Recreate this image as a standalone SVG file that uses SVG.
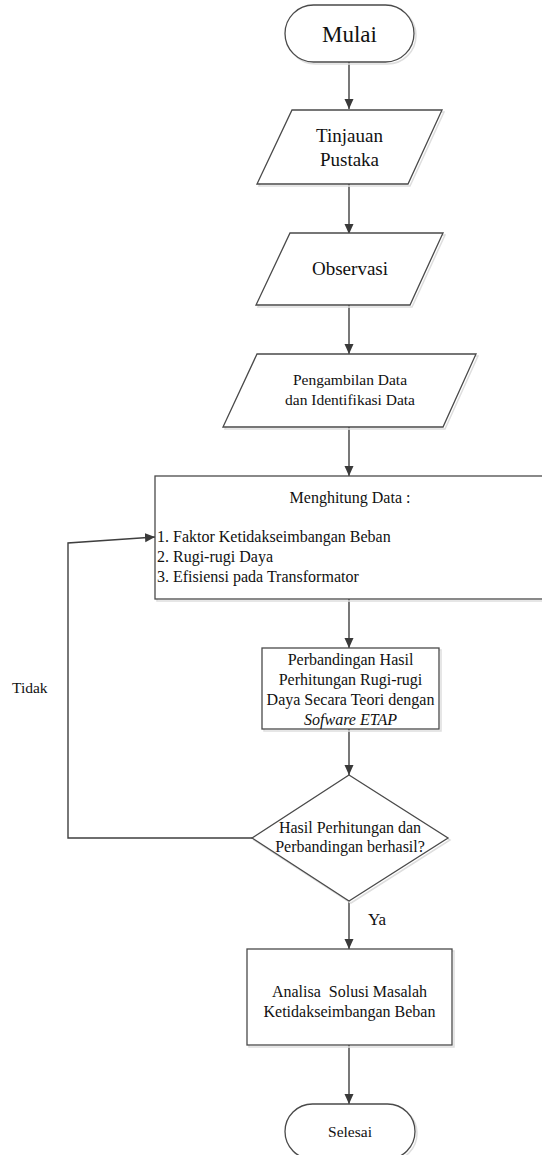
<svg xmlns="http://www.w3.org/2000/svg" width="542" height="1155" viewBox="0 0 542 1155">
<defs>
<marker id="ah" markerWidth="10" markerHeight="10" viewBox="0 0 10 10" refX="10" refY="5" orient="auto" markerUnits="userSpaceOnUse">
<path d="M0,0.5 L10,5 L0,9.5 Z" fill="#3a3a3a"/>
</marker>
<style>
.s{fill:#fff;stroke:#4a4a4a;stroke-width:1.3}
.sh{fill:none;stroke:#dedede;stroke-width:1.5}
.c{fill:none;stroke:#3f3f3f;stroke-width:1.4}
</style>
</defs>
<rect width="542" height="1155" fill="#fff"/>
<g id="connectors">
<line class="c" x1="349" y1="62" x2="349" y2="109" marker-end="url(#ah)"/>
<line class="c" x1="349" y1="184" x2="349" y2="234" marker-end="url(#ah)"/>
<line class="c" x1="349" y1="305" x2="349" y2="354" marker-end="url(#ah)"/>
<line class="c" x1="349" y1="427" x2="349" y2="476" marker-end="url(#ah)"/>
<line class="c" x1="349" y1="599" x2="349" y2="648" marker-end="url(#ah)"/>
<line class="c" x1="349" y1="729" x2="349" y2="775" marker-end="url(#ah)"/>
<line class="c" x1="349" y1="901" x2="349" y2="949" marker-end="url(#ah)"/>
<line class="c" x1="349" y1="1045" x2="349" y2="1104" marker-end="url(#ah)"/>
<polyline class="c" points="252,838 68,838 68,543 155,537" marker-end="url(#ah)"/>
<text x="12" y="693" font-size="15.5" font-family="'Liberation Serif', serif" fill="#111">Tidak</text>
<text x="368" y="925" font-size="17" font-family="'Liberation Serif', serif" fill="#111">Ya</text>
</g>
<g id="mulai" font-family="'Liberation Serif', serif" fill="#111" text-anchor="middle">
<rect class="sh" x="287" y="7" width="129" height="57" rx="28.5"/>
<rect class="s" x="285" y="5" width="129" height="57" rx="28.5"/>
<text x="349.5" y="42" font-size="23">Mulai</text>
</g>
<g id="tinjauan" font-family="'Liberation Serif', serif" fill="#111" text-anchor="middle">
<polygon class="sh" points="294,112 444,112 410,186 259,186"/>
<polygon class="s" points="292,110 442,110 408,184 257,184"/>
<text x="349.5" y="142" font-size="19">Tinjauan</text>
<text x="349.5" y="166" font-size="19">Pustaka</text>
</g>
<g id="observasi" font-family="'Liberation Serif', serif" fill="#111" text-anchor="middle">
<polygon class="sh" points="292,235 445,235 412,307 258,307"/>
<polygon class="s" points="290,233 443,233 410,305 256,305"/>
<text x="350" y="275" font-size="19">Observasi</text>
</g>
<g id="pengambilan" font-family="'Liberation Serif', serif" fill="#111" text-anchor="middle">
<polygon class="sh" points="259,356 478,356 445,429 225,429"/>
<polygon class="s" points="257,354 476,354 443,427 223,427"/>
<text x="350" y="385" font-size="15.5">Pengambilan Data</text>
<text x="350" y="405" font-size="15.5">dan Identifikasi Data</text>
</g>
<g id="menghitung" font-family="'Liberation Serif', serif" fill="#111">
<rect class="sh" x="157" y="478" width="400" height="123"/>
<rect class="s" x="155" y="476" width="400" height="123"/>
<text x="350" y="503" font-size="16" text-anchor="middle">Menghitung Data :</text>
<text x="157" y="542" font-size="16">1. Faktor Ketidakseimbangan Beban</text>
<text x="157" y="562" font-size="16">2. Rugi-rugi Daya</text>
<text x="157" y="582" font-size="16">3. Efisiensi pada Transformator</text>
</g>
<g id="perbandingan" font-family="'Liberation Serif', serif" fill="#111" text-anchor="middle">
<rect class="sh" x="264" y="650" width="177" height="81"/>
<rect class="s" x="262" y="648" width="177" height="81"/>
<text x="350.5" y="665" font-size="16">Perbandingan Hasil</text>
<text x="350.5" y="685" font-size="16">Perhitungan Rugi-rugi</text>
<text x="350.5" y="705" font-size="16">Daya Secara Teori dengan</text>
<text x="350.5" y="725" font-size="16" font-style="italic">Sofware ETAP</text>
</g>
<g id="keputusan" font-family="'Liberation Serif', serif" fill="#111" text-anchor="middle">
<polygon class="sh" points="351,777 450,840 351,903 254,840"/>
<polygon class="s" points="349,775 448,838 349,901 252,838"/>
<text x="350" y="833" font-size="16">Hasil Perhitungan dan</text>
<text x="350" y="852" font-size="16">Perbandingan berhasil?</text>
</g>
<g id="analisa" font-family="'Liberation Serif', serif" fill="#111" text-anchor="middle">
<rect class="sh" x="249" y="951" width="205" height="96"/>
<rect class="s" x="247" y="949" width="205" height="96"/>
<text x="349.5" y="997" font-size="16" xml:space="preserve">Analisa  Solusi Masalah</text>
<text x="349.5" y="1017" font-size="16">Ketidakseimbangan Beban</text>
</g>
<g id="selesai" font-family="'Liberation Serif', serif" fill="#111" text-anchor="middle">
<rect class="sh" x="287" y="1106" width="130" height="55" rx="27.5"/>
<rect class="s" x="285" y="1104" width="130" height="55" rx="27.5"/>
<text x="350" y="1137" font-size="15.5">Selesai</text>
</g>
</svg>
